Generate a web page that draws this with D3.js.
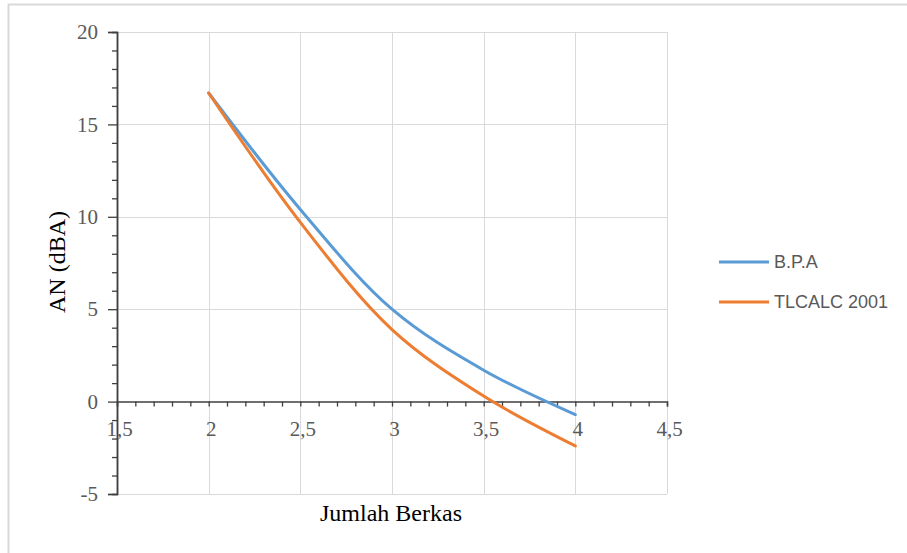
<!DOCTYPE html>
<html>
<head>
<meta charset="utf-8">
<script src="https://cdn.jsdelivr.net/npm/d3@7"></script>
<style>
  html, body { margin: 0; padding: 0; background: #fff; }
  svg { display: block; }
</style>
</head>
<body>
<svg id="chart" width="907" height="553"></svg>
<script>
const xValues = [2, 2.5, 3, 3.5, 4];
const seriesNames = ["B.P.A", "TLCALC 2001"];
const bpaValues = [16.7, 10.4, 5.0, 1.7, -0.7];
const tlcalcValues = [16.7, 9.7, 3.9, 0.3, -2.4];
const seriesColors = ["#5B9BD5", "#ED7D31"];
const xTicks = [1.5, 2, 2.5, 3, 3.5, 4, 4.5];
const yTicks = [-5, 0, 5, 10, 15, 20];
const xTitle = "Jumlah Berkas";
const yTitle = "AN (dBA)";

(function () {
const svg = d3.select("#chart");
const pLeft = 117, pRight = 667, pTop = 32, pBottom = 494;
const x = d3.scaleLinear().domain([1.5, 4.5]).range([pLeft, pRight]);
const y = d3.scaleLinear().domain([-5, 20]).range([pBottom, pTop]);
const fmt = d => String(d).replace(".", ",");

// outer chart border
svg.append("rect").attr("x", 8.5).attr("y", 4.5).attr("width", 920).attr("height", 620)
  .attr("fill", "#fff").attr("stroke", "#d9d9d9").attr("stroke-width", 2);

// gridlines
const grid = svg.append("g").attr("stroke", "#d9d9d9").attr("stroke-width", 1);
xTicks.filter(t => t > 1.5).forEach(t => {
  grid.append("line").attr("x1", Math.round(x(t)) + 0.5).attr("x2", Math.round(x(t)) + 0.5)
    .attr("y1", pTop).attr("y2", pBottom);
});
yTicks.filter(t => t !== 0).forEach(t => {
  grid.append("line").attr("x1", pLeft).attr("x2", pRight)
    .attr("y1", Math.round(y(t)) + 0.5).attr("y2", Math.round(y(t)) + 0.5);
});

// y axis
const yAxisMajor = d3.axisLeft(y).tickValues(yTicks).tickSize(9).tickFormat(fmt).tickPadding(10);
const yMinor = d3.range(-5, 20.001, 1).filter(v => v % 5 !== 0);
const yAxisMinor = d3.axisLeft(y).tickValues(yMinor).tickSize(5).tickFormat("");
const gyMinor = svg.append("g").attr("transform", `translate(${pLeft},0)`).call(yAxisMinor);
const gy = svg.append("g").attr("transform", `translate(${pLeft},0)`).call(yAxisMajor);
[gy, gyMinor].forEach(g => {
  g.selectAll("path.domain").attr("stroke", "#404040").attr("stroke-width", 1.5);
  g.selectAll(".tick line").attr("stroke", "#404040").attr("stroke-width", 1.3);
});
gy.selectAll("text").attr("font-family", "'Liberation Serif', 'Times New Roman', serif")
  .attr("font-size", 21).attr("fill", "#595959");

// x axis at y=0
const xMinor = d3.range(15, 45.001, 1).map(v => v / 10);
const xAxisTicks = d3.axisBottom(x).tickValues(xMinor).tickSize(5).tickFormat("");
const gx = svg.append("g").attr("transform", `translate(0,${y(0)})`).call(xAxisTicks);
gx.selectAll("path.domain").attr("stroke", "#404040").attr("stroke-width", 1.5);
gx.selectAll(".tick line").attr("stroke", "#404040").attr("stroke-width", 1.3);
const gxl = svg.append("g").attr("transform", `translate(0,${y(0)})`)
  .call(d3.axisBottom(x).tickValues(xTicks).tickSize(0).tickFormat(fmt).tickPadding(19));
gxl.select("path.domain").remove();
gxl.selectAll("text").attr("font-family", "'Liberation Serif', 'Times New Roman', serif")
  .attr("font-size", 21).attr("fill", "#595959").attr("dx", 2);

// lines
const data = [bpaValues, tlcalcValues];
const line = d3.line().x((d, i) => x(xValues[i])).y(d => y(d)).curve(d3.curveCatmullRom.alpha(0.5));
data.forEach((vals, k) => {
  svg.append("path").datum(vals).attr("d", line).attr("fill", "none")
    .attr("stroke", seriesColors[k]).attr("stroke-width", 3).attr("stroke-linecap", "round");
});

// titles
svg.append("text").attr("x", 391).attr("y", 521).attr("text-anchor", "middle")
  .attr("font-family", "'Liberation Serif', 'Times New Roman', serif").attr("font-size", 24)
  .attr("fill", "#000").text(xTitle);
svg.append("text").attr("transform", "translate(65,262) rotate(-90)").attr("text-anchor", "middle")
  .attr("font-family", "'Liberation Serif', 'Times New Roman', serif").attr("font-size", 24)
  .attr("fill", "#000").text(yTitle);

// legend
const legendY = [262, 302];
seriesNames.forEach((name, k) => {
  svg.append("line").attr("x1", 719).attr("x2", 769).attr("y1", legendY[k]).attr("y2", legendY[k])
    .attr("stroke", seriesColors[k]).attr("stroke-width", 3);
  svg.append("text").attr("x", 774).attr("y", legendY[k]).attr("dy", "0.35em")
    .attr("font-family", "'Liberation Sans', Arial, sans-serif").attr("font-size", 18)
    .attr("fill", "#595959").text(name);
});
})();
</script>
</body>
</html>
